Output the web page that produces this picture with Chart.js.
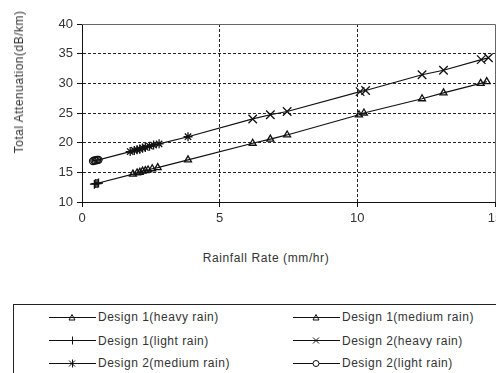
<!DOCTYPE html>
<html><head><meta charset="utf-8">
<script src="https://cdn.jsdelivr.net/npm/chart.js@4.4.1/dist/chart.umd.min.js"></script>
<style>
html,body{margin:0;padding:0;background:#fff;width:496px;height:373px;overflow:hidden;font-family:"Liberation Sans",Arial,sans-serif;}
#wrap{position:absolute;left:0;top:0;width:510px;height:230px;}
#ytitle{position:absolute;left:19px;top:82px;transform:translate(-50%,-50%) rotate(-90deg);white-space:nowrap;font-size:12px;color:#333;letter-spacing:0.5px;}
#xtitle{position:absolute;left:266px;top:258px;transform:translate(-50%,-50%);white-space:nowrap;font-size:12px;color:#333;letter-spacing:0.6px;}
#legend{position:absolute;left:13px;top:304px;width:520px;height:90px;border:1px solid #222;box-sizing:border-box;}
.item{position:absolute;height:14px;display:flex;align-items:center;font-size:12px;color:#333;white-space:nowrap;letter-spacing:0.5px;}
.item svg{margin-right:2px;}
</style>
</head><body>
<div id="wrap"><canvas id="c"></canvas></div>
<div id="ytitle">Total Attenuation(dB/km)</div>
<div id="xtitle">Rainfall Rate (mm/hr)</div>
<div id="legend"></div>
<script>
// ---- data ----
const seriesLabels = ["Design 1(heavy rain)","Design 1(medium rain)","Design 1(light rain)","Design 2(heavy rain)","Design 2(medium rain)","Design 2(light rain)"];
const xTicks = [0,5,10,15];
const yTicks = [10,15,20,25,30,35,40];

const d1HeavyX = [6.2,6.84,7.45,10.06,10.24,12.35,13.13,14.48,14.7];
const d1HeavyY = [19.9,20.6,21.3,24.7,25.0,27.4,28.4,30.0,30.3];
const d1MedX   = [1.85,2.0,2.1,2.2,2.3,2.4,2.55,2.75,3.85];
const d1MedY   = [14.7,14.9,15.0,15.2,15.3,15.4,15.6,15.8,17.1];
const d1LightX = [0.45,0.5,0.55,0.6];
const d1LightY = [13.0,13.1,13.1,13.2];

const d2HeavyX = [6.2,6.84,7.45,10.1,10.3,12.35,13.13,14.5,14.76];
const d2HeavyY = [24.0,24.7,25.25,28.6,28.8,31.45,32.2,34.0,34.3];
const d2MedX   = [1.75,1.9,2.0,2.1,2.2,2.3,2.45,2.6,2.8,3.85];
const d2MedY   = [18.5,18.7,18.8,18.9,19.1,19.2,19.4,19.6,19.8,21.0];
const d2LightX = [0.4,0.45,0.5,0.55,0.6];
const d2LightY = [16.9,17.0,17.0,17.1,17.1];

// ---- build ----
const pts = (xs,ys)=>xs.map((x,i)=>({x:x,y:ys[i]}));
const styles = [
  {pointStyle:'triangle', radius:4},
  {pointStyle:'triangle', radius:4},
  {pointStyle:'cross', radius:4.5},
  {pointStyle:'crossRot', radius:6},
  {pointStyle:'star', radius:4.5},
  {pointStyle:'circle', radius:3.5}
];
const seriesData = [pts(d1HeavyX,d1HeavyY),pts(d1MedX,d1MedY),pts(d1LightX,d1LightY),
                    pts(d2HeavyX,d2HeavyY),pts(d2MedX,d2MedY),pts(d2LightX,d2LightY)];
const markerSets = seriesData.map((d,i)=>({
  label: seriesLabels[i], data: d, showLine:false,
  pointStyle: styles[i].pointStyle, pointRadius: styles[i].radius, pointHoverRadius: styles[i].radius,
  pointBorderColor:'#111', pointBackgroundColor:'rgba(0,0,0,0)', pointBorderWidth:1.3, order:1
}));
const byX = (a,b)=>a.x-b.x;
const line1 = [...seriesData[2],...seriesData[1],...seriesData[0]].sort(byX);
const line2 = [...seriesData[5],...seriesData[4],...seriesData[3]].sort(byX);
const lineSets = [line1,line2].map(d=>({label:'_line', data:d, showLine:true, pointRadius:0, borderColor:'#111', borderWidth:1.2, order:10}));

const framePlugin = {
  id:'frame',
  afterDatasetsDraw(chart){
    const {ctx, chartArea:a} = chart;
    ctx.save();
    ctx.strokeStyle = '#666'; ctx.lineWidth = 1;
    ctx.beginPath();
    ctx.moveTo(a.left, a.top+0.5); ctx.lineTo(a.right+0.5, a.top+0.5); ctx.lineTo(a.right+0.5, a.bottom);
    ctx.stroke();
    ctx.restore();
  }
};

new Chart(document.getElementById('c'), {
  type:'scatter',
  data:{datasets:[...lineSets, ...markerSets]},
  plugins:[framePlugin],
  options:{
    responsive:true, maintainAspectRatio:false, animation:false, devicePixelRatio:1,
    layout:{padding:{top:24,right:15,left:0,bottom:0}},
    plugins:{legend:{display:false}, tooltip:{enabled:false}},
    scales:{
      x:{type:'linear', min:xTicks[0], max:xTicks[xTicks.length-1],
        afterBuildTicks:s=>{s.ticks = xTicks.map(v=>({value:v}));},
        afterFit:s=>{s.height = 28;},
        ticks:{color:'#333', font:{family:'"Liberation Sans", Arial, sans-serif', size:13}, padding:4, maxRotation:0, autoSkip:false},
        grid:{color:c=>(c.tick && (c.tick.value===xTicks[0]||c.tick.value===xTicks[xTicks.length-1]))?'rgba(0,0,0,0)':'#222', tickColor:'#111', tickLength:5, lineWidth:1},
        border:{color:'#111', width:1, dash:[3,2]}
      },
      y:{type:'linear', min:yTicks[0], max:yTicks[yTicks.length-1],
        afterBuildTicks:s=>{s.ticks = yTicks.map(v=>({value:v}));},
        afterFit:s=>{s.width = 82;},
        ticks:{color:'#333', font:{family:'"Liberation Sans", Arial, sans-serif', size:13}, padding:4, autoSkip:false},
        grid:{color:c=>(c.tick && (c.tick.value===yTicks[0]||c.tick.value===yTicks[yTicks.length-1]))?'rgba(0,0,0,0)':'#222', tickColor:'#111', tickLength:5, lineWidth:1},
        border:{color:'#111', width:1, dash:[3,2]}
      }
    }
  }
});

// ---- legend (HTML, from the same labels) ----
function symbol(style){
  const c=23, m=5;
  let s = '<svg width="47" height="11" viewBox="0 0 47 11"><line x1="0" y1="'+(m+0.5)+'" x2="47" y2="'+(m+0.5)+'" stroke="#111" stroke-width="1"/>';
  const st='stroke="#111" stroke-width="1" fill="none"';
  if(style==='triangle') s+='<polygon points="'+c+','+(m-2.5)+' '+(c+3)+','+(m+3)+' '+(c-3)+','+(m+3)+'" '+st+' fill="#fff"/>';
  if(style==='cross') s+='<line x1="'+(c+0.5)+'" y1="'+(m-3.5)+'" x2="'+(c+0.5)+'" y2="'+(m+4.5)+'" '+st+'/>';
  if(style==='crossRot') s+='<line x1="'+(c-3)+'" y1="'+(m-2.5)+'" x2="'+(c+3)+'" y2="'+(m+3.5)+'" '+st+'/><line x1="'+(c-3)+'" y1="'+(m+3.5)+'" x2="'+(c+3)+'" y2="'+(m-2.5)+'" '+st+'/>';
  if(style==='star') s+='<line x1="'+(c+0.5)+'" y1="'+(m-3.5)+'" x2="'+(c+0.5)+'" y2="'+(m+4.5)+'" '+st+'/><line x1="'+(c-3)+'" y1="'+(m-2.5)+'" x2="'+(c+3)+'" y2="'+(m+3.5)+'" '+st+'/><line x1="'+(c-3)+'" y1="'+(m+3.5)+'" x2="'+(c+3)+'" y2="'+(m-2.5)+'" '+st+'/>';
  if(style==='circle') s+='<circle cx="'+c+'" cy="'+(m+0.5)+'" r="3" stroke="#111" stroke-width="1" fill="#fff"/>';
  return s+'</svg>';
}
const leg = document.getElementById('legend');
const colLeft=[35,279], rowTop=[5,28.5,51];
seriesLabels.forEach((lab,i)=>{
  const d=document.createElement('div');
  d.className='item';
  d.style.left=colLeft[i%2]+'px';
  d.style.top=rowTop[Math.floor(i/2)]+'px';
  d.innerHTML=symbol(styles[i].pointStyle)+'<span>'+lab+'</span>';
  leg.appendChild(d);
});
</script>
</body></html>
